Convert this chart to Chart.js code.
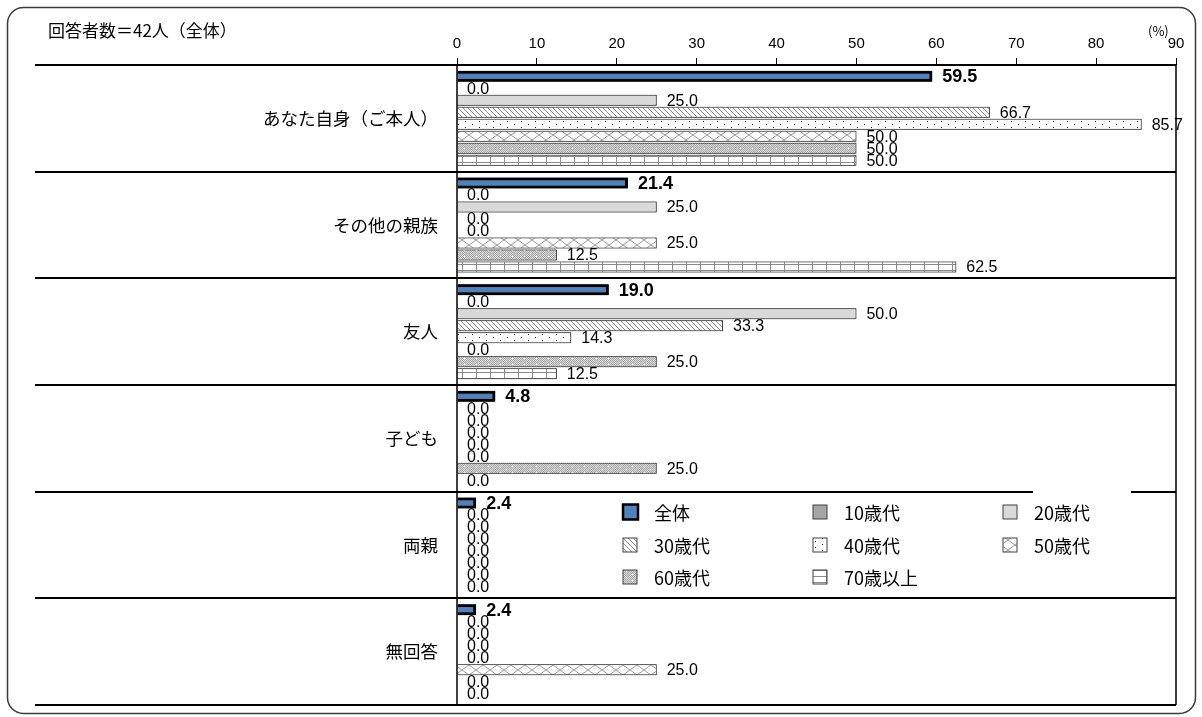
<!DOCTYPE html>
<html lang="ja">
<head>
<meta charset="utf-8">
<script src="https://cdn.jsdelivr.net/npm/chart.js@4.4.0/dist/chart.umd.min.js"></script>
<style>
html, body { margin: 0; padding: 0; background: #fff; }
#wrap { position: relative; width: 1202px; height: 717px; }
</style>
</head>
<body>
<div id="wrap"><canvas id="chart" width="1202" height="717"></canvas></div>
<script>
// 項目
const categories = ['あなた自身（ご本人）', 'その他の親族', '友人', '子ども', '両親', '無回答'];
const groups = ['全体', '10歳代', '20歳代', '30歳代', '40歳代', '50歳代', '60歳代', '70歳以上'];

// 値 (%)
const allValues = [59.5, 21.4, 19.0, 4.8, 2.4, 2.4];
const teens = [0.0, 0.0, 0.0, 0.0, 0.0, 0.0];
const twenties = [25.0, 25.0, 50.0, 0.0, 0.0, 0.0];
const thirties = [66.7, 0.0, 33.3, 0.0, 0.0, 0.0];
const forties = [85.7, 0.0, 14.3, 0.0, 0.0, 0.0];
const fifties = [50.0, 25.0, 0.0, 0.0, 0.0, 25.0];
const sixties = [50.0, 12.5, 25.0, 25.0, 0.0, 0.0];
const seventies = [50.0, 62.5, 12.5, 0.0, 0.0, 0.0];

const xTicks = [0, 10, 20, 30, 40, 50, 60, 70, 80, 90];
const respondents = '回答者数＝42人（全体）';

const canvas = document.getElementById('chart');
const mainCtx = canvas.getContext('2d');
const JP = '"Noto Sans CJK JP", "Noto Sans", sans-serif';
const NUM = '"Liberation Sans", Arial, sans-serif';

// 塗りパターン
function makePattern(w, h, paint) {
    const c = document.createElement('canvas');
    c.width = w; c.height = h;
    const g = c.getContext('2d');
    g.fillStyle = '#fff';
    g.fillRect(0, 0, w, h);
    paint(g, w, h);
    return mainCtx.createPattern(c, 'repeat');
}

const diagonal = makePattern(5, 5, function (g) {
    g.fillStyle = '#8a8a8a';
    for (let i = 0; i < 5; i++) g.fillRect(i, i, 1, 1);
});
const dots = makePattern(14, 6, function (g) {
    g.fillStyle = '#111';
    g.fillRect(3, 1, 1, 1);
    g.fillRect(10, 4, 1, 1);
});
const lattice = makePattern(14, 10, function (g) {
    g.strokeStyle = '#9a9a9a';
    g.lineWidth = 1;
    g.beginPath();
    g.moveTo(0, 0); g.lineTo(14, 10);
    g.moveTo(14, 0); g.lineTo(0, 10);
    g.stroke();
});
const stipple = makePattern(12, 6, function (g) {
    for (let x = 0; x < 12; x++) {
        for (let y = 0; y < 6; y++) {
            g.fillStyle = (x + y) % 2 === 0 ? '#a4a4a4' : '#dcdcdc';
            g.fillRect(x, y, 1, 1);
        }
    }
    g.fillStyle = '#fff';
    g.fillRect(2, 1, 1, 1);
    g.fillRect(8, 4, 1, 1);
});
const grid = makePattern(14, 6, function (g) {
    g.fillStyle = '#8c8c8c';
    g.fillRect(0, 0, 1, 6);
    g.fillRect(0, 0, 14, 1);
});

const seriesData = [allValues, teens, twenties, thirties, forties, fifties, sixties, seventies];
const fills = ['#4f81bd', '#a6a6a6', '#d9d9d9', diagonal, dots, lattice, stipple, grid];

const datasets = seriesData.map(function (vals, i) {
    return {
        label: groups[i],
        data: vals,
        backgroundColor: fills[i],
        borderColor: i === 0 ? '#000' : '#404040',
        borderWidth: i === 0 ? 3 : 1,
        categoryPercentage: 0.9,
        barPercentage: 0.92
    };
});

function roundRect(ctx, x, y, w, h, r) {
    ctx.beginPath();
    ctx.moveTo(x + r, y);
    ctx.lineTo(x + w - r, y);
    ctx.arcTo(x + w, y, x + w, y + r, r);
    ctx.lineTo(x + w, y + h - r);
    ctx.arcTo(x + w, y + h, x + w - r, y + h, r);
    ctx.lineTo(x + r, y + h);
    ctx.arcTo(x, y + h, x, y + h - r, r);
    ctx.lineTo(x, y + r);
    ctx.arcTo(x, y, x + r, y, r);
    ctx.closePath();
}

const decor = {
    id: 'decor',
    beforeDraw(chart) {
        const ctx = chart.ctx;
        ctx.save();
        ctx.strokeStyle = '#3a3a3a';
        ctx.lineWidth = 1.5;
        roundRect(ctx, 7.5, 7.5, 1188, 706, 16);
        ctx.stroke();
        ctx.fillStyle = '#000';
        ctx.textBaseline = 'middle';
        ctx.textAlign = 'left';
        ctx.font = '17px ' + JP;
        ctx.fillText(respondents, 48, 31);
        ctx.font = '13px ' + JP;
        ctx.fillText('(%)', 1148, 31);
        ctx.restore();
    },
    afterDatasetsDraw(chart) {
        const ctx = chart.ctx;
        const area = chart.chartArea;
        const yScale = chart.scales.y;

        // Excel と同じく、系列順に棒→ラベルを重ねる
        for (let i = 0; i < chart.data.datasets.length; i++) {
            const meta = chart.getDatasetMeta(i);
            ctx.save();
            ctx.beginPath();
            ctx.rect(area.left, area.top, area.right - area.left, area.bottom - area.top);
            ctx.clip();
            meta.data.forEach(function (el) { el.draw(ctx); });
            ctx.restore();

            ctx.save();
            ctx.fillStyle = '#000';
            ctx.textBaseline = 'middle';
            ctx.textAlign = 'left';
            ctx.font = (i === 0 ? 'bold 18px ' : '16px ') + NUM;
            meta.data.forEach(function (el, j) {
                const v = chart.data.datasets[i].data[j];
                ctx.fillText(v.toFixed(1), el.x + 10, el.y + 1);
            });
            ctx.restore();
        }

        ctx.save();
        ctx.strokeStyle = '#000';
        // 区切り線
        ctx.lineWidth = 2;
        for (let i = 0; i <= categories.length; i++) {
            const y = Math.round(yScale.getPixelForValue(i - 0.5));
            ctx.beginPath();
            ctx.moveTo(35, y);
            ctx.lineTo(area.right, y);
            ctx.stroke();
        }
        // 縦軸と右枠
        ctx.lineWidth = 1.5;
        ctx.beginPath();
        ctx.moveTo(area.left, area.top);
        ctx.lineTo(area.left, area.bottom);
        ctx.moveTo(area.right, area.top);
        ctx.lineTo(area.right, area.bottom);
        ctx.stroke();

        // 凡例
        ctx.fillStyle = '#fff';
        ctx.fillRect(1033, 489, 98, 8);
        const colX = [623, 813, 1003];
        const rowY = [512, 545, 577];
        ctx.font = '18px ' + JP;
        ctx.textBaseline = 'middle';
        ctx.textAlign = 'left';
        chart.data.datasets.forEach(function (ds, i) {
            const x = colX[i % 3];
            const y = rowY[Math.floor(i / 3)];
            const s = i === 0 ? 15 : 14;
            ctx.fillStyle = ds.backgroundColor;
            ctx.fillRect(x, y - s / 2, s, s);
            ctx.strokeStyle = ds.borderColor;
            ctx.lineWidth = i === 0 ? 2.5 : 1;
            ctx.strokeRect(x, y - s / 2, s, s);
            ctx.fillStyle = '#000';
            ctx.fillText(ds.label, x + 31, y + 1);
        });
        ctx.restore();
    }
};

new Chart(canvas, {
    type: 'bar',
    data: { labels: categories, datasets: datasets },
    options: {
        indexAxis: 'y',
        responsive: false,
        animation: false,
        layout: { padding: { left: 0, right: 26, top: 0, bottom: 12 } },
        plugins: {
            legend: { display: false },
            tooltip: { enabled: false }
        },
        scales: {
            x: {
                position: 'top',
                min: xTicks[0],
                max: xTicks[xTicks.length - 1],
                afterFit: function (scale) {
                    scale.height = 65;
                    scale.paddingLeft = 0;
                    scale.paddingRight = 0;
                },
                afterBuildTicks: function (scale) {
                    scale.ticks = xTicks.map(function (v) { return { value: v }; });
                },
                ticks: { color: '#000', font: { family: NUM, size: 15 }, padding: 5 },
                grid: { drawOnChartArea: false, drawTicks: true, tickLength: 7, color: '#000', lineWidth: 1 },
                border: { display: false }
            },
            y: {
                afterFit: function (scale) {
                    scale.width = 457;
                    scale.paddingTop = 0;
                    scale.paddingBottom = 0;
                },
                ticks: { color: '#000', font: { family: JP, size: 17.5 }, padding: 19 },
                grid: { display: false, drawTicks: false },
                border: { display: false }
            }
        }
    },
    plugins: [decor]
});
</script>
</body>
</html>
